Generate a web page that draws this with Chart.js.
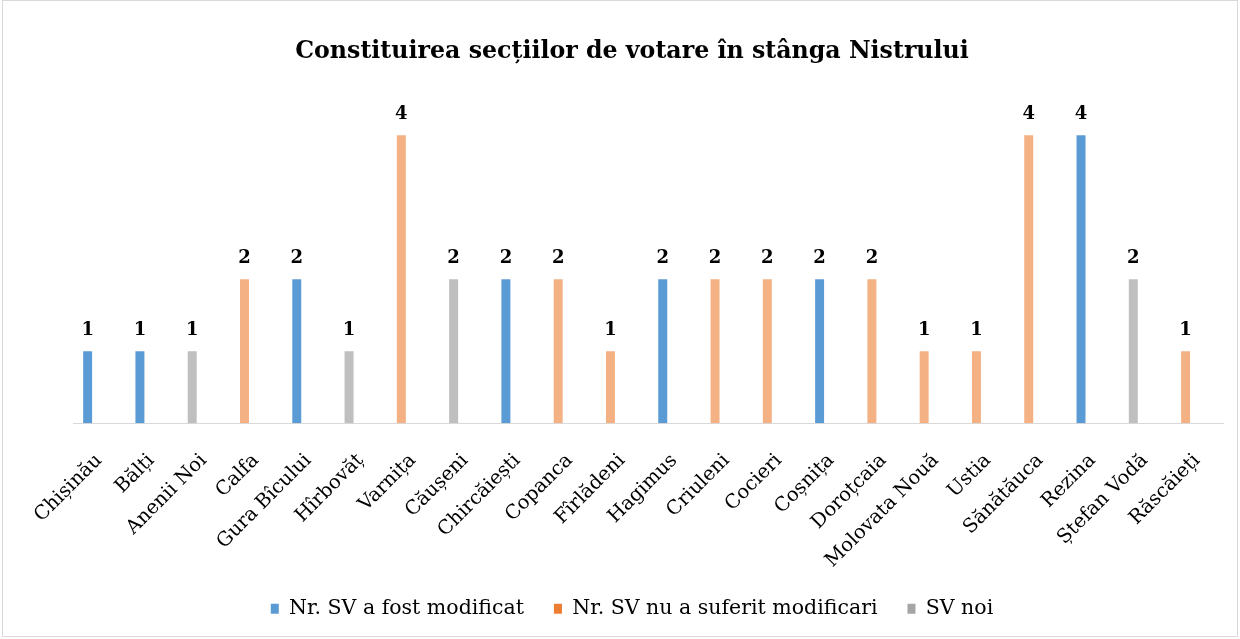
<!DOCTYPE html>
<html><head><meta charset="utf-8">
<script src="https://cdn.jsdelivr.net/npm/chart.js@4/dist/chart.umd.min.js"></script>
<style>html,body{margin:0;padding:0;background:#fff;}#wrap{width:1240px;height:639px;position:relative;}</style>
</head><body><div id="wrap"><canvas id="c"></canvas></div>
<script>
const categories = ["Chișinău","Bălți","Anenii Noi","Calfa","Gura Bîcului","Hîrbovăț","Varnița","Căușeni","Chircăiești","Copanca","Fîrlădeni","Hagimus","Criuleni","Cocieri","Coșnița","Doroțcaia","Molovata Nouă","Ustia","Sănătăuca","Rezina","Ștefan Vodă","Răscăieți"];
const modificat =  [1,1,null,null,2,null,null,null,2,null,null,2,null,null,2,null,null,null,null,4,null,null];
const nemodificat = [null,null,null,2,null,null,4,null,null,2,1,null,2,2,null,2,1,1,4,null,null,1];
const noi =        [null,null,1,null,null,1,null,2,null,null,null,null,null,null,null,null,null,null,null,null,2,null];
const seriesNames = ["Nr. SV a fost modificat","Nr. SV nu a suferit modificari","SV noi"];
const barColors = ["#5B9BD5","#F4B183","#BFBFBF"];
const legendColors = ["#5B9BD5","#ED7D31","#A5A5A5"];
const serif = "'DejaVu Serif', 'Liberation Serif', serif";

const labelPlugin = {
  id: 'valLabels',
  afterDatasetsDraw(chart){
    const ctx = chart.ctx;
    ctx.save();
    ctx.font = "bold 18px " + serif;
    ctx.fillStyle = "#000";
    ctx.textAlign = "center";
    ctx.textBaseline = "bottom";
    chart.data.datasets.forEach((ds, i) => {
      if (ds.isDummy) return;
      const meta = chart.getDatasetMeta(i);
      meta.data.forEach((el, j) => {
        const v = ds.data[j];
        if (v === null || v === undefined) return;
        ctx.fillText(String(v), el.x, el.y - 12);
      });
    });
    ctx.restore();
  }
};
const borderPlugin = {
  id: 'frame',
  beforeDraw(chart){
    const ctx = chart.ctx;
    ctx.save();
    ctx.fillStyle = "#fff";
    ctx.fillRect(0,0,chart.width,chart.height);
    ctx.strokeStyle = "#D9D9D9";
    ctx.lineWidth = 1;
    ctx.strokeRect(2.5,0.5,chart.width-5,chart.height-3);
    ctx.restore();
  }
};

const datasets = [modificat, nemodificat, noi].map((d,i)=>({
  label: seriesNames[i], data: d, backgroundColor: barColors[i], stack: 'a',
  categoryPercentage: 0.88, barPercentage: 0.39
}));
datasets.push({label:'', data: categories.map(()=>null), stack:'b', isDummy:true, backgroundColor:'rgba(0,0,0,0)', categoryPercentage:0.88, barPercentage:0.39});

new Chart(document.getElementById('c'), {
  type: 'bar',
  data: { labels: categories, datasets },
  options: {
    responsive: true, maintainAspectRatio: false, animation: false,
    layout: { padding: { left: 40, right: 16, top: 10, bottom: 10 } },
    plugins: {
      title: { display: true, text: "Constituirea secțiilor de votare în stânga Nistrului",
        font: { family: serif, size: 23.7, weight: 'bold' }, color: "#000", padding: { top: 28, bottom: 30 } },
      legend: { position: 'bottom',
        labels: { font: { family: serif, size: 20.5 }, color: "#000", boxWidth: 8, boxHeight: 10, padding: 30,
          generateLabels(chart){
            return seriesNames.map((n,i)=>({text:n, fillStyle: legendColors[i], strokeStyle: legendColors[i], lineWidth:0, datasetIndex:i, hidden:false}));
          } } },
      tooltip: { enabled: false }
    },
    scales: {
      x: { stacked: true, grid: { display: false, drawTicks: false }, border: { color: "#D9D9D9", width: 1 },
        ticks: { font: { family: serif, size: 19.5 }, color: "#000", minRotation: 45, maxRotation: 45, padding: 26 },
        afterFit(scale){ scale.height -= 30; } },
      y: { stacked: true, display: true, min: 0, max: 4.54,
        ticks: { display: false }, grid: { display: false, drawTicks: false }, border: { display: false },
        afterFit(scale){ scale.width = 33; } }
    }
  },
  plugins: [labelPlugin, borderPlugin]
});
</script></body></html>
